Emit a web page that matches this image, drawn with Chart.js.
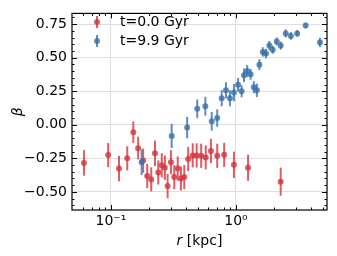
<!DOCTYPE html>
<html>
<head>
<meta charset="utf-8">
<script src="https://cdn.jsdelivr.net/npm/chart.js@4"></script>
<style>
  body { margin: 0; background: #fff; }
  #wrap { width: 337px; height: 256px; }
</style>
</head>
<body>
<div id="wrap"><canvas id="grafico"></canvas></div>
<script>
// radii in kpc, beta and its error, for each snapshot
var rRed = [0.0608, 0.095, 0.116, 0.135, 0.151, 0.165, 0.181, 0.195, 0.21, 0.225,
  0.239, 0.255, 0.27, 0.284, 0.302, 0.321, 0.342, 0.363, 0.386, 0.415,
  0.451, 0.485, 0.527, 0.573, 0.631, 0.708, 0.805, 0.964, 1.25, 2.28];
var betaRed = [-0.284, -0.226, -0.326, -0.25, -0.055, -0.174, -0.267, -0.381, -0.407, -0.212,
  -0.355, -0.302, -0.32, -0.457, -0.279, -0.39, -0.326, -0.40, -0.39, -0.255,
  -0.228, -0.228, -0.231, -0.243, -0.195, -0.231, -0.224, -0.298, -0.32, -0.424];
var errRed = [0.095, 0.09, 0.095, 0.09, 0.08, 0.085, 0.09, 0.09, 0.09, 0.095,
  0.09, 0.09, 0.09, 0.09, 0.09, 0.09, 0.09, 0.09, 0.09, 0.09,
  0.09, 0.09, 0.09, 0.09, 0.09, 0.09, 0.09, 0.098, 0.098, 0.105];

var rBlue = [0.176, 0.306, 0.407, 0.49, 0.569, 0.64, 0.708, 0.769, 0.832, 0.895,
  0.964, 1.04, 1.11, 1.16, 1.23, 1.31, 1.39, 1.47, 1.54, 1.64,
  1.74, 1.85, 1.97, 2.12, 2.28, 2.5, 2.75, 3.09, 3.61, 4.7];
var betaBlue = [-0.279, -0.083, -0.021, 0.119, 0.138, 0.026, 0.05, 0.198, 0.257, 0.198,
  0.24, 0.298, 0.25, 0.369, 0.40, 0.376, 0.28, 0.257, 0.448, 0.543,
  0.531, 0.59, 0.559, 0.621, 0.59, 0.681, 0.662, 0.681, 0.74, 0.614];
var errBlue = [0.095, 0.09, 0.08, 0.07, 0.07, 0.07, 0.065, 0.06, 0.06, 0.06,
  0.065, 0.05, 0.045, 0.05, 0.045, 0.04, 0.045, 0.05, 0.04, 0.035,
  0.035, 0.035, 0.03, 0.03, 0.03, 0.03, 0.028, 0.025, 0.02, 0.035];

var labels = ['t=0.0 Gyr', 't=9.9 Gyr'];
var yTicks = [-0.5, -0.25, 0, 0.25, 0.5, 0.75];
var xTicks = [0.1, 1];

var red = 'rgba(214, 52, 62, 0.8)';
var blue = 'rgba(58, 112, 170, 0.8)';
var font = '"DejaVu Sans", sans-serif';

function pts(xs, ys, es) {
  return xs.map(function (x, i) { return { x: x, y: ys[i], e: es[i] }; });
}

// error bars drawn just before each dataset's markers
var errorBars = {
  id: 'errorBars',
  beforeDatasetDraw: function (chart, args) {
    var ds = chart.data.datasets[args.index];
    var xs = chart.scales.x, ys = chart.scales.y;
    var ctx = chart.ctx;
    ctx.save();
    ctx.strokeStyle = ds.borderColor;
    ctx.lineWidth = 2;
    ds.data.forEach(function (p) {
      var px = xs.getPixelForValue(p.x);
      ctx.beginPath();
      ctx.moveTo(px, ys.getPixelForValue(p.y - p.e));
      ctx.lineTo(px, ys.getPixelForValue(p.y + p.e));
      ctx.stroke();
    });
    ctx.restore();
  }
};

// frame, inward ticks, axis titles and legend in matplotlib style
var decor = {
  id: 'decor',
  afterDraw: function (chart) {
    var ctx = chart.ctx, a = chart.chartArea;
    var xs = chart.scales.x, ys = chart.scales.y;
    ctx.save();
    ctx.strokeStyle = '#000';
    ctx.lineWidth = 1;

    function tickX(v, len) {
      var px = Math.round(xs.getPixelForValue(v)) + 0.5;
      ctx.beginPath();
      ctx.moveTo(px, a.bottom); ctx.lineTo(px, a.bottom - len);
      ctx.moveTo(px, a.top); ctx.lineTo(px, a.top + len);
      ctx.stroke();
    }
    function tickY(v, len) {
      var py = Math.round(ys.getPixelForValue(v)) + 0.5;
      ctx.beginPath();
      ctx.moveTo(a.left, py); ctx.lineTo(a.left + len, py);
      ctx.moveTo(a.right, py); ctx.lineTo(a.right - len, py);
      ctx.stroke();
    }
    [0.06, 0.07, 0.08, 0.09, 0.2, 0.3, 0.4, 0.5, 0.6, 0.7, 0.8, 0.9, 2, 3, 4, 5].forEach(function (v) { tickX(v, 2.5); });
    xTicks.forEach(function (v) { tickX(v, 5); });
    for (var v = -0.6; v <= 0.81; v += 0.05) tickY(Math.round(v * 100) / 100, 2.5);
    yTicks.forEach(function (v) { tickY(v, 5); });

    ctx.lineWidth = 1.2;
    ctx.strokeRect(a.left, a.top, a.right - a.left, a.bottom - a.top);

    ctx.fillStyle = '#000';
    ctx.textBaseline = 'middle';
    // x title: italic r + [kpc]
    var cx = (a.left + a.right) / 2;
    ctx.font = 'italic 14px ' + font;
    var w1 = ctx.measureText('r').width;
    ctx.font = '14px ' + font;
    var w2 = ctx.measureText(' [kpc]').width;
    var x0 = cx - (w1 + w2) / 2;
    ctx.textAlign = 'left';
    ctx.font = 'italic 14px ' + font;
    ctx.fillText('r', x0, 241);
    ctx.font = '14px ' + font;
    ctx.fillText(' [kpc]', x0 + w1, 241);

    // y title
    ctx.save();
    ctx.translate(18, (a.top + a.bottom) / 2);
    ctx.rotate(-Math.PI / 2);
    ctx.textAlign = 'center';
    ctx.font = 'italic 14px ' + font;
    ctx.fillText('\u03b2', 0, 0);
    ctx.restore();

    // legend
    var cols = [red, blue];
    labels.forEach(function (t, i) {
      var ly = 22 + i * 19;
      ctx.strokeStyle = cols[i];
      ctx.lineWidth = 2;
      ctx.beginPath();
      ctx.moveTo(97, ly - 6); ctx.lineTo(97, ly + 6);
      ctx.stroke();
      ctx.fillStyle = cols[i];
      ctx.beginPath();
      ctx.arc(97, ly, 3, 0, Math.PI * 2);
      ctx.fill();
      ctx.fillStyle = '#000';
      ctx.textAlign = 'left';
      ctx.font = '14px ' + font;
      ctx.fillText(t, 120, ly);
    });
    ctx.restore();
  }
};

var ctx = document.querySelector('#grafico').getContext('2d');
var chart = new Chart(ctx, {
  type: 'scatter',
  data: {
    datasets: [{
      label: labels[0],
      data: pts(rRed, betaRed, errRed),
      backgroundColor: red,
      borderColor: red,
      borderWidth: 0,
      pointRadius: 3,
      order: 1
    }, {
      label: labels[1],
      data: pts(rBlue, betaBlue, errBlue),
      backgroundColor: blue,
      borderColor: blue,
      borderWidth: 0,
      pointRadius: 3,
      order: 0
    }]
  },
  options: {
    responsive: true,
    maintainAspectRatio: false,
    animation: false,
    layout: { padding: { top: 5, right: 10, left: 0, bottom: 0 } },
    plugins: { legend: { display: false }, tooltip: { enabled: false } },
    scales: {
      x: {
        type: 'logarithmic',
        min: 0.0488,
        max: 5.35,
        afterBuildTicks: function (s) { s.ticks = xTicks.map(function (v) { return { value: v }; }); },
        afterFit: function (s) { s.height = 46; },
        grid: { color: '#dedede', lineWidth: 1, drawTicks: false },
        border: { display: false },
        ticks: {
          color: '#000',
          padding: 3,
          maxRotation: 0,
          font: { family: font, size: 14 },
          callback: function (v) { return v === 0.1 ? '10\u207b\u00b9' : '10\u2070'; }
        }
      },
      y: {
        min: -0.635,
        max: 0.83,
        afterBuildTicks: function (s) { s.ticks = yTicks.map(function (v) { return { value: v }; }); },
        afterFit: function (s) { s.width = 72; },
        grid: { color: '#dedede', lineWidth: 1, drawTicks: false },
        border: { display: false },
        ticks: {
          color: '#000',
          padding: 5,
          font: { family: font, size: 14 },
          callback: function (v) { return v.toFixed(2).replace('-', '\u2212'); }
        }
      }
    }
  },
  plugins: [errorBars, decor]
});
</script>
</body>
</html>
